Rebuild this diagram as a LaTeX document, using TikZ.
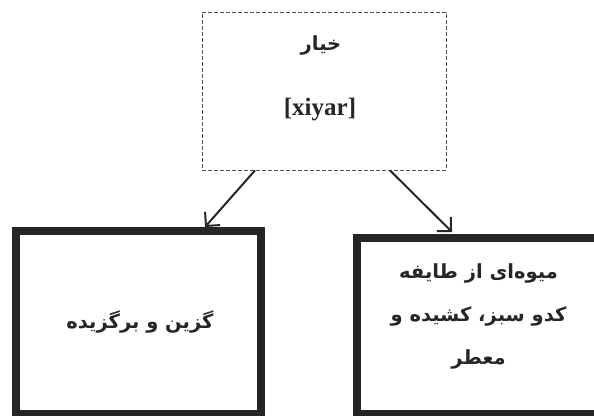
\documentclass[tikz,border=0pt]{standalone}
\usepackage{fontspec}
\setmainfont{Liberation Serif}
\newfontfamily\arabicfont[Script=Arabic]{DejaVu Sans}
\TeXXeTstate=1
\usetikzlibrary{arrows.meta,calc}
\definecolor{boxgray}{RGB}{38,38,38}
\definecolor{dashgray}{RGB}{80,80,80}
\tikzset{
  wordbox/.style={draw=dashgray,dash pattern=on 4pt off 2pt,line width=0.8pt,
    minimum width=244pt,minimum height=158pt,inner sep=0pt},
  sensebox/.style={draw=boxgray,line width=8pt,inner sep=0pt},
  fatext/.style={font=\arabicfont\bfseries\fontsize{19.5}{43}\selectfont,text=boxgray,align=center,inner sep=0pt},
  latext/.style={font=\bfseries\fontsize{25}{30}\selectfont,text=boxgray,inner sep=0pt},
  senseedge/.style={-{Straight Barb[length=10pt,width=20pt]},line width=2pt,draw=boxgray}
}

\begin{document}
\begin{tikzpicture}[x=1pt,y=-1pt]
  \useasboundingbox (0,0) rectangle (594,415);
  \clip (0,0) rectangle (594,415);
  % the word
  \node[wordbox] (xiyar) at (324,91) {};
  \node[fatext] (khiyarfa) at (321,45) {\beginR خیار\endR};
  \node[latext] (khiyarlat) at (320,110) {[xiyar]};
  % the two senses
  \node[sensebox,minimum width=245pt,minimum height=183pt] (gozin) at (138.5,322.5) {};
  \node[fatext] (gozintext) at (140,322) {\beginR گزین و برگزیده\endR};
  \node[sensebox,minimum width=243pt,minimum height=176pt] (miveh) at (478.5,326) {};
  \node[fatext] (mivehtext) at (478.5,316) {\beginR میوه‌ای از طایفه\endR\\
    \beginR کدو سبز، کشیده و\endR\\ \beginR معطر\endR};
  \draw[senseedge] ($(xiyar.south)+(-69,0)$) -- ($(gozin.north)+(66.5,0)$);
  \draw[senseedge] ($(xiyar.south)+(66,0)$) -- ($(miveh.north)+(-26.5,-2)$);
\end{tikzpicture}
\end{document}
